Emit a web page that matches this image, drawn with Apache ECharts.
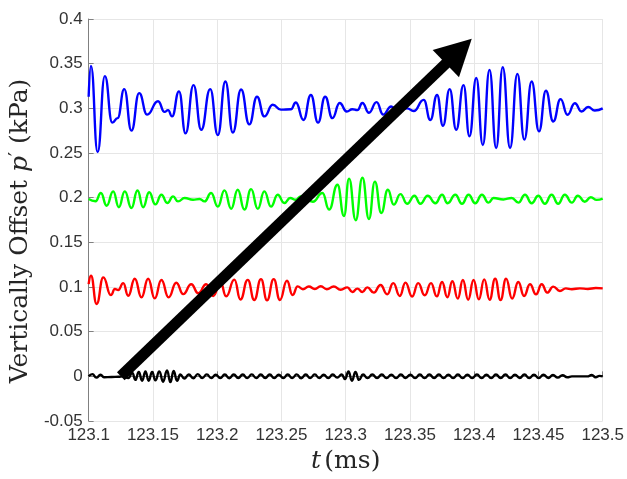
<!DOCTYPE html>
<html>
<head>
<meta charset="utf-8">
<script src="https://cdn.jsdelivr.net/npm/echarts@6/dist/echarts.min.js"></script>
<style>
  html, body { margin: 0; padding: 0; background: #fff; }
  #chart { width: 627px; height: 479px; }
</style>
</head>
<body>
<div id="chart"></div>
<script>
// peaks / troughs: [t (ms), offset p' (kPa)]
const blueTrace = [
  [123.1,0.313],[123.1018,0.3475],[123.107,0.251],[123.1126,0.336],[123.1184,0.284],[123.1225,0.289],
  [123.1277,0.3215],[123.1333,0.275],[123.1393,0.317],[123.1455,0.293],[123.154,0.308],[123.1591,0.296],
  [123.1618,0.298],[123.1649,0.291],[123.1703,0.319],[123.1754,0.272],[123.1816,0.326],[123.1876,0.276],
  [123.1946,0.3215],[123.2005,0.270],[123.2064,0.330],[123.2122,0.273],[123.2186,0.321],[123.225,0.282],
  [123.231,0.313],[123.2367,0.291],[123.2432,0.304],[123.2496,0.2985],[123.2574,0.299],[123.2612,0.3066],
  [123.2672,0.287],[123.2729,0.315],[123.2785,0.284],[123.284,0.313],[123.2897,0.289],[123.2953,0.306],
  [123.3008,0.2965],[123.3052,0.299],[123.3091,0.298],[123.313,0.306],[123.3181,0.295],[123.324,0.307],
  [123.3292,0.293],[123.3354,0.302],[123.34,0.297],[123.3478,0.300],[123.3529,0.297],[123.3607,0.3095],
  [123.3659,0.287],[123.3711,0.315],[123.3757,0.2805],[123.3809,0.3215],[123.386,0.276],[123.3917,0.326],
  [123.3963,0.2686],[123.4016,0.334],[123.4067,0.259],[123.4119,0.343],[123.4171,0.2556],[123.4222,0.346],
  [123.4279,0.2556],[123.4336,0.3386],[123.439,0.265],[123.4447,0.330],[123.4504,0.2742],[123.4558,0.3197],
  [123.4615,0.2853],[123.4672,0.3103],[123.4726,0.2928],[123.4783,0.3057],[123.4835,0.2965],[123.4886,0.3015],
  [123.4938,0.2975],[123.5,0.300]
];

const greenTrace = [
  [123.1,0.1985],[123.1054,0.196],[123.1095,0.2052],[123.114,0.191],[123.1191,0.207],[123.1235,0.1893],
  [123.1281,0.207],[123.1333,0.1885],[123.138,0.208],[123.1424,0.1893],[123.1471,0.206],[123.1519,0.1925],
  [123.1566,0.2032],[123.1612,0.194],[123.1657,0.2014],[123.1695,0.1958],[123.1747,0.1996],[123.1812,0.1976],
  [123.1863,0.1985],[123.1902,0.1958],[123.1953,0.2052],[123.2005,0.19],[123.2057,0.2082],[123.2109,0.1875],
  [123.216,0.2088],[123.2212,0.1867],[123.2264,0.2096],[123.2316,0.1875],[123.2367,0.207],[123.2419,0.19],
  [123.2471,0.2033],[123.2522,0.194],[123.2568,0.1996],[123.2612,0.1976],[123.2651,0.2015],[123.2744,0.1955],
  [123.2819,0.2052],[123.2871,0.1867],[123.2936,0.2145],[123.2987,0.1795],[123.3026,0.2213],[123.3078,0.1748],
  [123.313,0.2223],[123.3181,0.1762],[123.3227,0.218],[123.3277,0.1829],[123.3328,0.2088],[123.3374,0.1922],
  [123.3426,0.204],[123.3478,0.1932],[123.3535,0.2022],[123.3581,0.1932],[123.3638,0.2022],[123.3698,0.1938],
  [123.375,0.2032],[123.3793,0.1938],[123.3853,0.2032],[123.3905,0.1932],[123.3956,0.2032],[123.4008,0.1938],
  [123.406,0.2032],[123.4111,0.1945],[123.415,0.1996],[123.4227,0.198],[123.4292,0.1996],[123.4344,0.1945],
  [123.4395,0.2032],[123.4447,0.1938],[123.4499,0.2022],[123.455,0.1932],[123.4602,0.2032],[123.4653,0.1932],
  [123.4705,0.2032],[123.476,0.1945],[123.4806,0.2022],[123.486,0.1955],[123.4907,0.2005],[123.4953,0.1975],
  [123.5,0.199]
];

const redTrace = [
  [123.1,0.1033],[123.1018,0.1126],[123.1062,0.081],[123.1114,0.1108],[123.1173,0.091],[123.1204,0.0977],
  [123.123,0.0966],[123.1269,0.1043],[123.1308,0.0902],[123.1359,0.1093],[123.1411,0.0884],[123.1463,0.1093],
  [123.1514,0.0873],[123.1566,0.1078],[123.1622,0.0884],[123.1682,0.1048],[123.1736,0.092],[123.1798,0.103],
  [123.1853,0.093],[123.1915,0.103],[123.1969,0.09],[123.2026,0.105],[123.207,0.0896],[123.2134,0.1083],
  [123.2181,0.086],[123.2238,0.108],[123.2289,0.0855],[123.2341,0.1088],[123.2388,0.0852],[123.244,0.1088],
  [123.2488,0.0855],[123.2543,0.107],[123.2587,0.091],[123.2626,0.1007],[123.2667,0.0975],[123.2713,0.1005],
  [123.276,0.0978],[123.2806,0.1008],[123.2853,0.0975],[123.2907,0.1005],[123.2961,0.097],[123.3013,0.0996],
  [123.3052,0.0944],[123.3091,0.0982],[123.313,0.0944],[123.3168,0.0996],[123.3219,0.0937],[123.3271,0.1022],
  [123.3323,0.0918],[123.337,0.1043],[123.3421,0.09],[123.3465,0.1049],[123.3517,0.0893],[123.3564,0.1043],
  [123.3615,0.0907],[123.3664,0.1043],[123.3709,0.0895],[123.375,0.1056],[123.3791,0.0885],[123.383,0.1065],
  [123.3872,0.087],[123.3912,0.1078],[123.3953,0.0858],[123.3995,0.1078],[123.4036,0.0862],[123.4078,0.1085],
  [123.412,0.0858],[123.4163,0.1093],[123.4205,0.0855],[123.4248,0.1093],[123.4295,0.087],[123.4343,0.1056],
  [123.4388,0.09],[123.4434,0.103],[123.4481,0.0918],[123.4525,0.103],[123.4568,0.0937],[123.4615,0.1004],
  [123.4667,0.0955],[123.4713,0.0985],[123.476,0.0975],[123.4822,0.0985],[123.4884,0.0978],[123.4946,0.0988],
  [123.5,0.0985]
];

const blackTrace = [
  [123.1,0.0],[123.1029,0.0025],[123.106,-0.0015],[123.1093,0.0018],[123.1119,-0.001],[123.1178,-0.0008],
  [123.1233,-0.0005],[123.1264,0.0],[123.131,-0.002],[123.1339,0.004],[123.1364,-0.004],[123.139,0.005],
  [123.1416,-0.005],[123.1442,0.0055],[123.1467,-0.005],[123.1494,0.005],[123.1519,-0.0045],[123.155,0.0055],
  [123.1579,-0.006],[123.161,0.0065],[123.1636,-0.0065],[123.1661,0.006],[123.1688,-0.005],[123.1713,0.002],
  [123.1744,-0.0025],[123.1779,0.002],[123.1814,-0.0022],[123.1849,0.0025],[123.1884,-0.002],[123.1919,0.0022],
  [123.1954,-0.002],[123.1989,0.0018],[123.2024,-0.002],[123.2059,0.002],[123.2094,-0.0022],[123.2129,0.002],
  [123.2164,-0.0018],[123.2199,0.002],[123.2234,-0.002],[123.2269,0.0022],[123.2304,-0.002],[123.2339,0.002],
  [123.2374,-0.0018],[123.2409,0.002],[123.2444,-0.002],[123.2479,0.0018],[123.2514,-0.002],[123.2549,0.002],
  [123.2584,-0.002],[123.2619,0.0022],[123.2654,-0.0022],[123.2689,0.002],[123.2724,-0.002],[123.2759,0.0022],
  [123.2794,-0.002],[123.2829,0.0018],[123.2864,-0.002],[123.2899,0.002],[123.2934,-0.0015],[123.2969,0.002],
  [123.2995,-0.003],[123.3022,0.0055],[123.3049,-0.005],[123.3076,0.005],[123.3103,-0.004],[123.3135,0.002],
  [123.317,-0.002],[123.3207,0.002],[123.3244,-0.0018],[123.3281,0.002],[123.3318,-0.002],[123.3355,0.0018],
  [123.3392,-0.002],[123.3429,0.002],[123.3466,-0.0018],[123.3503,0.0018],[123.354,-0.002],[123.3577,0.002],
  [123.3614,-0.002],[123.3651,0.002],[123.3688,-0.0018],[123.3725,0.002],[123.3762,-0.002],[123.3799,0.0018],
  [123.3836,-0.002],[123.3873,0.002],[123.391,-0.002],[123.3947,0.0018],[123.3984,-0.002],[123.4021,0.002],
  [123.4058,-0.002],[123.4095,0.0018],[123.4132,-0.002],[123.4169,0.002],[123.4206,-0.0018],[123.4243,0.002],
  [123.428,-0.002],[123.4317,0.0018],[123.4354,-0.0018],[123.4391,0.002],[123.4428,-0.002],[123.4465,0.0018],
  [123.4502,-0.002],[123.4539,0.0018],[123.4576,-0.0018],[123.4613,0.0015],[123.465,-0.0015],[123.4687,0.0012],
  [123.4724,-0.001],[123.476,0.0],[123.488,0.0],[123.4915,0.0015],[123.4945,-0.001],[123.4975,0.0005],
  [123.5,0.0]
];

// arrow from tail to the base of the head (data units)
const arrowFrom = [123.125, 0.0];
const arrowTo = [123.388, 0.364];

const xTicks = { min: 123.1, max: 123.5, step: 0.05 };
const yTicks = { min: -0.05, max: 0.4, step: 0.05 };

const chart = echarts.init(document.getElementById('chart'), null, { renderer: 'canvas' });

const axisGray = '#808080';
const gridGray = '#e6e6e6';
const serif = 'DejaVu Serif, serif';
const labelStyle = { color: '#333', fontFamily: 'Liberation Sans, Arial, sans-serif', fontSize: 17 };

function trace(name, data, color, z) {
  return {
    name: name,
    type: 'line',
    data: data,
    smooth: 0.5,
    smoothMonotone: 'x',
    symbol: 'none',
    z: z,
    lineStyle: { color: color, width: 2.4 },
    emphasis: { disabled: true }
  };
}

const blackSeries = trace('black', blackTrace, '#000000', 5);
blackSeries.markLine = {
  silent: true,
  animation: false,
  symbol: ['none', 'triangle'],
  symbolSize: [38, 36],
  label: { show: false },
  lineStyle: { color: '#000', width: 11, type: 'solid' },
  emphasis: { disabled: true },
  data: [[{ coord: arrowFrom }, { coord: arrowTo }]]
};

chart.setOption({
  animation: false,
  backgroundColor: '#fff',
  grid: { left: 87, right: 23, top: 19, bottom: 55, containLabel: false },
  xAxis: {
    type: 'value',
    min: xTicks.min,
    max: xTicks.max,
    interval: xTicks.step,
    name: '{i|t} {n|(ms)}',
    nameLocation: 'middle',
    nameGap: 28,
    nameTextStyle: {
      rich: {
        i: { fontFamily: serif, fontStyle: 'italic', fontSize: 25, color: '#262626' },
        n: { fontFamily: serif, fontSize: 25, color: '#262626' }
      }
    },
    axisLine: { show: true, lineStyle: { color: axisGray, width: 1 } },
    axisTick: { show: true, inside: true, length: 5, lineStyle: { color: axisGray } },
    axisLabel: Object.assign({ margin: 6, formatter: v => String(+v.toFixed(2)) }, labelStyle),
    splitLine: { show: true, lineStyle: { color: gridGray, width: 1 } }
  },
  yAxis: {
    type: 'value',
    min: yTicks.min,
    max: yTicks.max,
    interval: yTicks.step,
    name: '{n|Vertically Offset }{i|p}{s|′}{n| (kPa)}',
    nameLocation: 'middle',
    nameGap: 53,
    nameTextStyle: {
      padding: [0, 22, 0, 0],
      rich: {
        n: { fontFamily: serif, fontSize: 25, color: '#262626' },
        i: { fontFamily: serif, fontStyle: 'italic', fontSize: 25, color: '#262626' },
        s: { fontFamily: serif, fontSize: 18, color: '#262626', verticalAlign: 'top' }
      }
    },
    axisLine: { show: true, lineStyle: { color: axisGray, width: 1 } },
    axisTick: { show: true, inside: true, length: 5, lineStyle: { color: axisGray } },
    axisLabel: Object.assign({ margin: 6, formatter: v => String(+v.toFixed(2)) }, labelStyle),
    splitLine: { show: true, lineStyle: { color: gridGray, width: 1 } }
  },
  series: [
    trace('blue', blueTrace, '#0000ff', 2),
    trace('green', greenTrace, '#00ff00', 2),
    trace('red', redTrace, '#ff0000', 2),
    blackSeries
  ]
});
</script>
</body>
</html>
